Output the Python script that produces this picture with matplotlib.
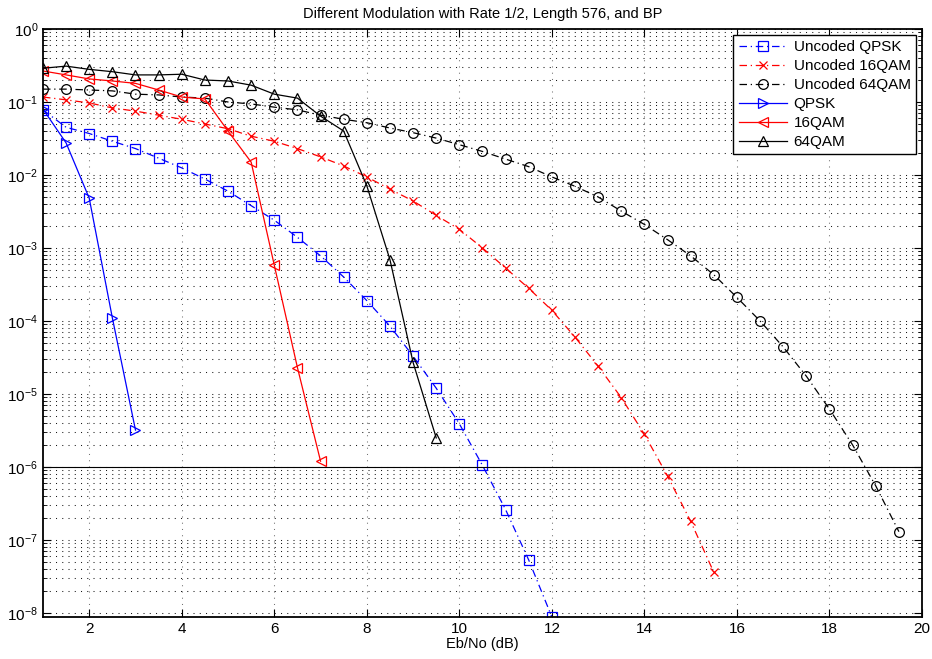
import numpy as np
import matplotlib
matplotlib.use("Agg")
import matplotlib.pyplot as plt
from matplotlib.ticker import FixedLocator, NullFormatter, LogFormatterMathtext

plt.rcParams['font.family'] = ['Liberation Sans', 'DejaVu Sans']
plt.rcParams['mathtext.fontset'] = 'custom'
plt.rcParams['mathtext.rm'] = 'Liberation Sans'

# Eb/No grids (dB)
ebno_unc_qpsk = np.arange(1, 12.01, 0.5)
ebno_unc_16 = np.arange(1, 15.51, 0.5)
ebno_unc_64 = np.arange(1, 19.51, 0.5)
ebno_qpsk = np.arange(1, 3.01, 0.5)
ebno_16 = np.arange(1, 7.01, 0.5)
ebno_64 = np.arange(1, 9.51, 0.5)

# bit error rates
ber_unc_qpsk = [0.078, 0.045, 0.037, 0.029, 0.023, 0.017, 0.0125, 0.0088, 0.006, 0.0038,
                0.0024, 0.0014, 7.8e-4, 4.0e-4, 1.9e-4, 8.5e-5, 3.3e-5, 1.2e-5, 3.9e-6,
                1.05e-6, 2.6e-7, 5.3e-8, 8.8e-9]
ber_unc_16 = [0.117, 0.107, 0.097, 0.083, 0.075, 0.066, 0.058, 0.05, 0.043, 0.034, 0.029,
              0.023, 0.0177, 0.0133, 0.0094, 0.0064, 0.0044, 0.0028, 0.0018, 0.001, 5.3e-4,
              2.8e-4, 1.4e-4, 6.0e-5, 2.4e-5, 8.9e-6, 2.8e-6, 7.5e-7, 1.8e-7, 3.6e-8]
ber_unc_64 = [0.15, 0.15, 0.146, 0.142, 0.128, 0.125, 0.117, 0.113, 0.1, 0.094, 0.085, 0.078,
              0.066, 0.058, 0.052, 0.044, 0.038, 0.032, 0.026, 0.021, 0.0165, 0.013, 0.0094,
              0.007, 0.005, 0.0032, 0.0021, 0.0013, 7.8e-4, 4.3e-4, 2.1e-4, 1.0e-4, 4.4e-5,
              1.75e-5, 6.2e-6, 2.0e-6, 5.5e-7, 1.3e-7]
ber_qpsk = [0.08, 0.0275, 0.0048, 1.1e-4, 3.2e-6]
ber_16 = [0.266, 0.235, 0.207, 0.194, 0.18, 0.146, 0.117, 0.11, 0.04, 0.015, 5.8e-4, 2.3e-5, 1.2e-6]
ber_64 = [0.29, 0.31, 0.28, 0.26, 0.235, 0.235, 0.24, 0.2, 0.194, 0.17, 0.128, 0.113, 0.064,
          0.04, 0.0071, 6.9e-4, 2.7e-5, 2.5e-6]

xticks = np.arange(2, 21, 2)
decades = np.arange(-8, 1)

fig = plt.figure(figsize=(9.32, 6.59), dpi=100)
ax = fig.add_axes([0.0461, 0.0637, 0.9432, 0.8923])

dashdot = (0, (6, 3, 1, 3))
mk = dict(markersize=7, markerfacecolor='none', markeredgewidth=0.9, linewidth=0.9)

ax.semilogy(ebno_unc_qpsk, ber_unc_qpsk, color='b', linestyle=dashdot, marker='s', label='Uncoded QPSK', **mk)
ax.semilogy(ebno_unc_16, ber_unc_16, color='r', linestyle=dashdot, marker='x', label='Uncoded 16QAM',
            markersize=5.5, markeredgewidth=0.9, linewidth=0.9)
ax.semilogy(ebno_unc_64, ber_unc_64, color='k', linestyle=dashdot, marker='o', label='Uncoded 64QAM', **mk)
ax.semilogy(ebno_qpsk, ber_qpsk, color='b', linestyle='-', marker='>', label='QPSK', **mk)
ax.semilogy(ebno_16, ber_16, color='r', linestyle='-', marker='<', label='16QAM', **mk)
ax.semilogy(ebno_64, ber_64, color='k', linestyle='-', marker='^', label='64QAM', **mk)

ax.axhline(1e-6, color='k', linewidth=0.8)

ax.set_xlim(1, 20)
ax.set_ylim(8.8e-9, 1)
ax.xaxis.set_major_locator(FixedLocator(xticks))
ax.yaxis.set_major_locator(FixedLocator(10.0 ** decades))
ax.yaxis.set_major_formatter(LogFormatterMathtext())
minor = [m * 10.0 ** d for d in decades[:-1] for m in range(2, 10)]
ax.yaxis.set_minor_locator(FixedLocator(minor))
ax.yaxis.set_minor_formatter(NullFormatter())

dots = (0, (1, 5))
ax.grid(True, which='major', axis='y', linestyle=dots, color='0.1', linewidth=0.75)
ax.grid(True, which='minor', axis='y', linestyle=dots, color='0.1', linewidth=0.75)
ax.grid(True, which='major', axis='x', linestyle=dots, color='0.45', linewidth=0.75)

ax.tick_params(which='both', direction='in', top=True, right=True, labelsize=11)
ax.tick_params(which='major', length=6)
ax.tick_params(which='minor', length=3)
for s in ax.spines.values():
    s.set_linewidth(1.3)

ax.set_title('Different Modulation with Rate 1/2, Length 576, and BP', fontsize=10.5, pad=8)
ax.set_xlabel('Eb/No (dB)', fontsize=10.5, labelpad=1)

leg = ax.legend(loc='upper right', fontsize=11, handlelength=3.2, borderpad=0.35,
                labelspacing=0.32, handletextpad=0.4, fancybox=False, framealpha=1,
                edgecolor='k', borderaxespad=0.4)
leg.get_frame().set_linewidth(1.0)

fig.savefig('out.png', dpi=100)
